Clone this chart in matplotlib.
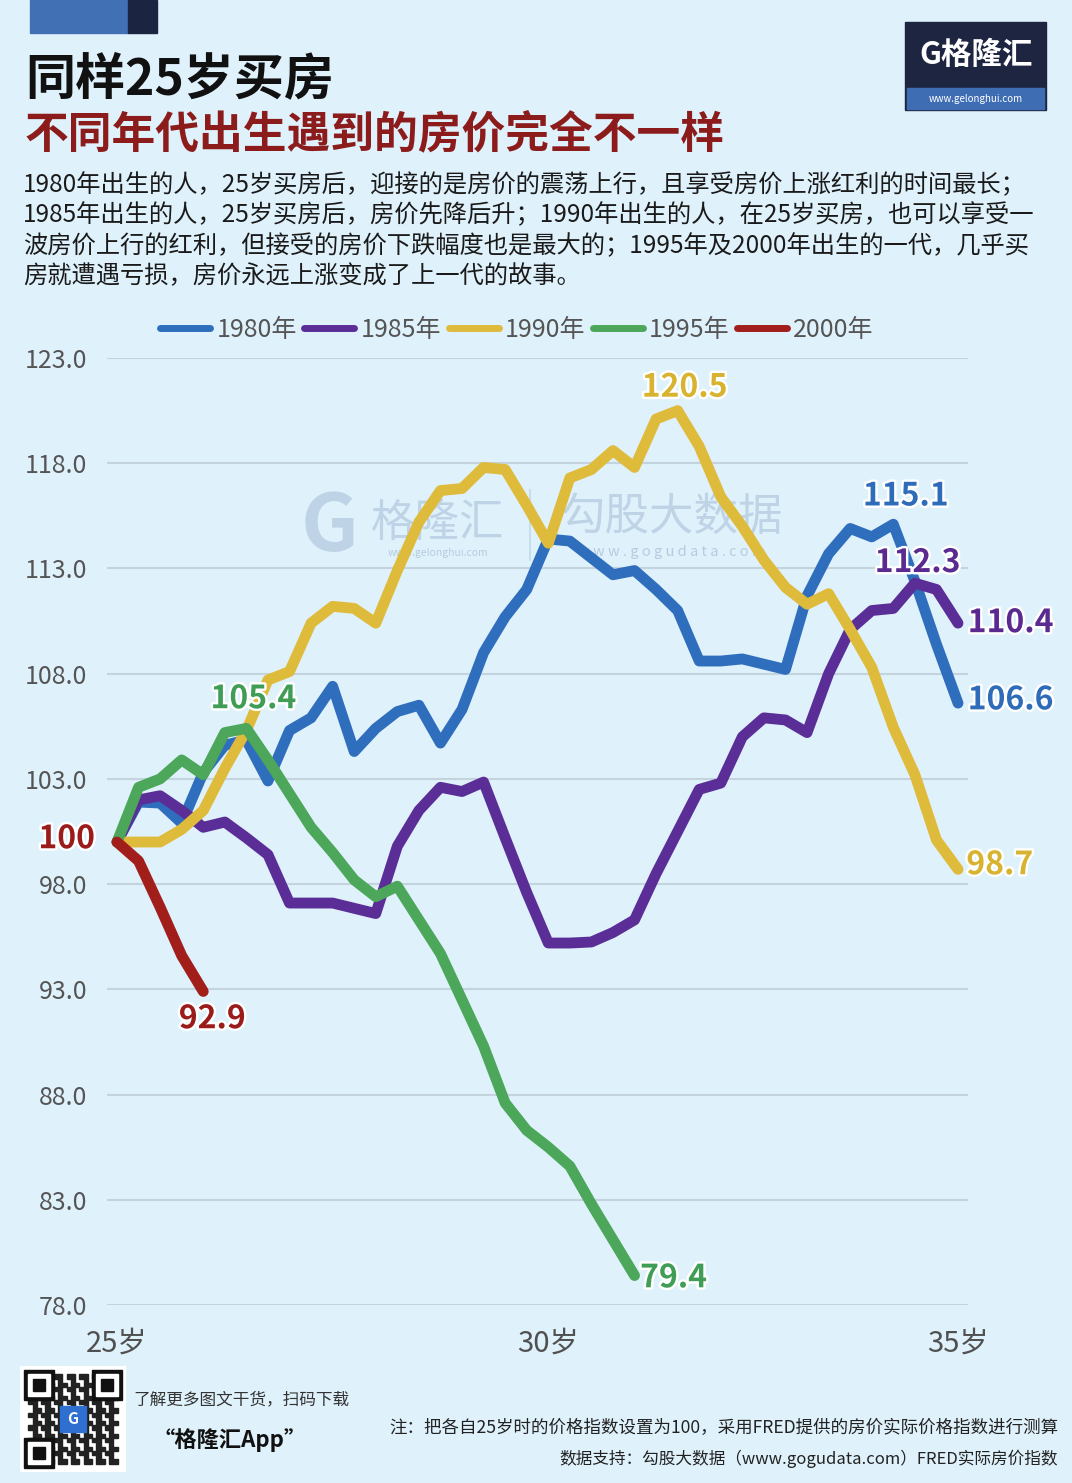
import matplotlib
matplotlib.use('Agg')
import matplotlib.pyplot as plt
import matplotlib.patheffects as pe
from matplotlib.lines import Line2D
from matplotlib.patches import Rectangle

plt.rcParams['font.family'] = ['Noto Sans CJK SC', 'DejaVu Sans']

# ---- data (quarterly index, 25岁 = 100) ----
age_labels = ['25岁', '30岁', '35岁']
age_pos = [0, 20, 39]
y_ticks = [78, 83, 88, 93, 98, 103, 108, 113, 118, 123]

series_names = ['1980年', '1985年', '1990年', '1995年', '2000年']

born_1980 = [100.0, 101.9, 101.85, 100.9, 103.3, 104.6, 104.85, 102.9, 105.3, 105.9,
             107.4, 104.3, 105.4, 106.2, 106.5, 104.7, 106.3, 109.0, 110.7, 112.0,
             114.4, 114.3, 113.5, 112.7, 112.9, 112.0, 111.0, 108.6, 108.6, 108.7,
             108.45, 108.2, 111.7, 113.7, 114.9, 114.5, 115.1, 112.4, 109.4, 106.6]
born_1985 = [100.0, 102.0, 102.2, 101.5, 100.7, 100.95, 100.2, 99.4, 97.1, 97.1,
             97.1, 96.85, 96.6, 99.8, 101.5, 102.6, 102.4, 102.85, 100.2, 97.6,
             95.2, 95.2, 95.25, 95.7, 96.3, 98.5, 100.5, 102.5, 102.8, 105.0,
             105.9, 105.8, 105.2, 108.0, 110.1, 111.0, 111.1, 112.3, 112.0, 110.4]
born_1990 = [100.0, 100.0, 100.0, 100.6, 101.5, 103.5, 105.3, 107.7, 108.1, 110.4,
             111.2, 111.1, 110.4, 112.9, 115.2, 116.7, 116.8, 117.8, 117.7, 116.0,
             114.2, 117.3, 117.7, 118.6, 117.8, 120.1, 120.5, 118.8, 116.4, 115.0,
             113.4, 112.1, 111.3, 111.8, 110.1, 108.3, 105.45, 103.2, 100.1, 98.7]
born_1995 = [100.0, 102.6, 103.0, 103.9, 103.2, 105.2, 105.4, 103.9, 102.3, 100.7,
             99.5, 98.2, 97.4, 97.9, 96.3, 94.7, 92.5, 90.3, 87.6, 86.3,
             85.5, 84.6, 82.8, 81.1, 79.4]
born_2000 = [100.0, 99.1, 96.9, 94.6, 92.9]

colors = ['#2f6ebd', '#5b2d97', '#dfbb3c', '#4ca75b', '#a21e1b']

W, H = 1072, 1483
BG = '#dff1fb'


def fx(px):
    return px / W


def fy(py):
    return 1 - py / H


fig = plt.figure(figsize=(W / 100, H / 100), dpi=100, facecolor=BG)

# decoration blocks top-left
fig.patches.append(Rectangle((fx(30), fy(33)), 98 / W, 33 / H, transform=fig.transFigure,
                             color='#4270b4', zorder=0))
fig.patches.append(Rectangle((fx(128), fy(33)), 29 / W, 33 / H, transform=fig.transFigure,
                             color='#1b2440', zorder=0))

# logo top-right
fig.patches.append(Rectangle((fx(905), fy(110)), 141 / W, 88 / H, transform=fig.transFigure,
                             color='#1e2541', zorder=0))
fig.patches.append(Rectangle((fx(907), fy(109)), 137 / W, 21 / H, transform=fig.transFigure,
                             color='#3f6db3', zorder=1))
fig.text(fx(976), fy(55), 'G格隆汇', color='white', fontsize=22, weight='bold',
         ha='center', va='center')
fig.text(fx(976), fy(99), 'www.gelonghui.com', color='white', fontsize=7,
         ha='center', va='center')

# titles
fig.text(fx(25), fy(80), '同样25岁买房', fontsize=36, weight='bold', color='#111111',
         va='center')
fig.text(fx(25), fy(135), '不同年代出生遇到的房价完全不一样', fontsize=31.5, weight='bold',
         color='#8c1c1c', va='center')
body = ['1980年出生的人，25岁买房后，迎接的是房价的震荡上行，且享受房价上涨红利的时间最长；',
        '1985年出生的人，25岁买房后，房价先降后升；1990年出生的人，在25岁买房，也可以享受一',
        '波房价上行的红利，但接受的房价下跌幅度也是最大的；1995年及2000年出生的一代，几乎买',
        '房就遭遇亏损，房价永远上涨变成了上一代的故事。']
for i, line in enumerate(body):
    fig.text(fx(23), fy(185 + i * 30.5), line, fontsize=17.5, color='#1a1a1a', va='center')

# ---- chart ----
ax = fig.add_axes([fx(107), fy(1305), (968 - 107) / W, (1305 - 358) / H])
ax.set_facecolor(BG)
step = 21.56
ax.set_xlim(-10 / step, 39 + 10 / step)
ax.set_ylim(78, 123)
for s in ax.spines.values():
    s.set_visible(False)
ax.set_yticks(y_ticks)
ax.set_yticklabels(['%.1f' % v for v in y_ticks], fontsize=18, color='#555555',
                   weight='medium')
ax.set_xticks(age_pos)
ax.set_xticklabels(age_labels, fontsize=21, color='#505050', weight='medium')
ax.tick_params(axis='y', length=0, pad=14)
ax.tick_params(axis='x', length=0, pad=17)
ax.grid(axis='y', color='#c4d3de', linewidth=1.5)
ax.set_axisbelow(True)

# watermark
wm = '#a9bfd8'
ax.text(0.259, 0.821, 'G', transform=ax.transAxes, fontsize=58, weight='heavy', color=wm,
        alpha=0.6, ha='center', va='center', zorder=0.5)
ax.text(0.384, 0.826, '格隆汇', transform=ax.transAxes, fontsize=32, color=wm, alpha=0.6,
        ha='center', va='center', zorder=0.5)
ax.text(0.384, 0.794, 'www.gelonghui.com', transform=ax.transAxes, fontsize=7.5, color=wm,
        alpha=0.75, ha='center', va='center', zorder=0.5)
ax.plot([0.491, 0.491], [0.787, 0.861], transform=ax.transAxes, color=wm, alpha=0.5,
        lw=1.2, zorder=0.5)
ax.text(0.656, 0.832, '勾股大数据', transform=ax.transAxes, fontsize=32, color=wm, alpha=0.6,
        ha='center', va='center', zorder=0.5)
ax.text(0.656, 0.795, 'w w w . g o g u d a t a . c o m', transform=ax.transAxes, fontsize=10.5,
        color=wm, alpha=0.75, ha='center', va='center', zorder=0.5)

all_series = [born_1980, born_1985, born_1990, born_1995, born_2000]
for vals, c, z in zip(all_series, colors, [3, 4, 5, 6, 7]):
    ax.plot(range(len(vals)), vals, color=c, lw=7.8, solid_joinstyle='round',
            solid_capstyle='round', zorder=z, clip_on=False)

# value labels
stroke = [pe.withStroke(linewidth=3.5, foreground='white')]
label_specs = [
    (born_1990, 26, '#d8b32f', (5, 16.5), 'center'),
    (born_1980, 36, '#2e6cba', (9, 20), 'center'),
    (born_1985, 37, '#5a2a90', (2, 14.5), 'center'),
    (born_1985, 39, '#5a2a90', (7, 0), 'left'),
    (born_1980, 39, '#2e6cba', (7, 2), 'left'),
    (born_1990, 39, '#d8b32f', (6, 3), 'left'),
    (born_1995, 6, '#3f9d55', (5, 21), 'center'),
    (born_2000, 0, '#9b1b1b', (-16, 2), 'right'),
    (born_2000, 4, '#9b1b1b', (6.5, -20), 'center'),
    (born_1995, 24, '#3f9d55', (4, -2), 'left'),
]
for vals, i, c, off, ha in label_specs:
    v = vals[i]
    txt = '%d' % v if v == 100 else '%.1f' % v
    ax.annotate(txt, (i, v), xytext=off, textcoords='offset points', ha=ha, va='center',
                fontsize=23, weight='bold', color=c, path_effects=stroke, zorder=10,
                annotation_clip=False)

handles = [Line2D([], [], color=c, lw=5, solid_capstyle='round') for c in colors]
fig.legend(handles, series_names, loc='center', bbox_to_anchor=(fx(517), fy(330)), ncol=5,
           frameon=False, fontsize=18, labelcolor='#555555', handlelength=2.0,
           handletextpad=0.25, columnspacing=0.3)

# ---- footer ----
qr = fig.add_axes([fx(20), fy(1472), 106 / W, 106 / H])
qr.set_xlim(0, 25)
qr.set_ylim(0, 25)
qr.axis('off')
qr.add_patch(Rectangle((0, 0), 25, 25, color='white'))
for i in range(2, 23):
    for j in range(2, 23):
        if (i * i + 3 * j + i * j) % 3 == 0:
            qr.add_patch(Rectangle((i, j), 1, 1, color='#222222'))
for (x0, y0) in [(1, 17), (17, 17), (1, 1)]:
    qr.add_patch(Rectangle((x0, y0), 7, 7, color='#111111'))
    qr.add_patch(Rectangle((x0 + 1, y0 + 1), 5, 5, color='white'))
    qr.add_patch(Rectangle((x0 + 2, y0 + 2), 3, 3, color='#111111'))
qr.add_patch(Rectangle((9.5, 9.5), 6, 6, color='#2f6fd0'))
qr.text(12.5, 12.5, 'G', color='white', fontsize=11, weight='bold', ha='center', va='center')

fig.text(fx(133), fy(1400), '了解更多图文干货，扫码下载', fontsize=12, color='#333333',
         va='center')
fig.text(fx(230), fy(1440), '“格隆汇App”', fontsize=16, weight='bold', color='#111111',
         ha='center', va='center')
fig.text(fx(1058), fy(1428), '注：把各自25岁时的价格指数设置为100，采用FRED提供的房价实际价格指数进行测算',
         fontsize=12.6, color='#222222', ha='right', va='center')
fig.text(fx(1058), fy(1459), '数据支持：勾股大数据（www.gogudata.com）FRED实际房价指数',
         fontsize=12.0, color='#222222', ha='right', va='center')

fig.savefig('out.png', dpi=100, facecolor=BG)
